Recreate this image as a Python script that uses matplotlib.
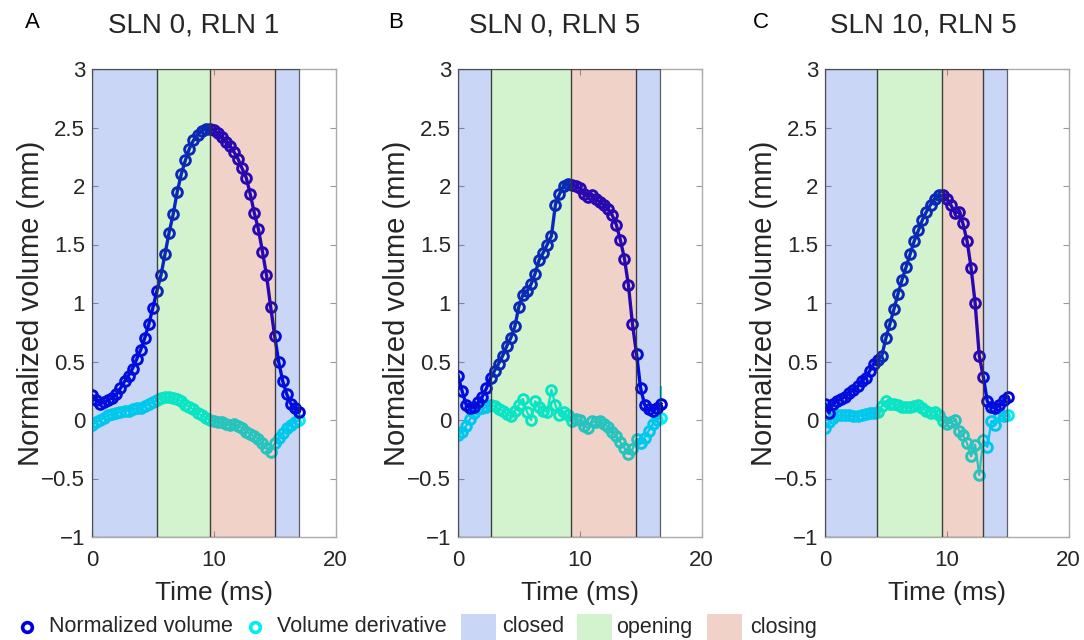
import matplotlib
matplotlib.use("Agg")
import matplotlib.pyplot as plt
from matplotlib.lines import Line2D
from matplotlib.patches import Rectangle

plt.rcParams['font.family'] = ['Liberation Sans', 'DejaVu Sans']

# ---------------- data ----------------
titles = ["SLN 0, RLN 1", "SLN 0, RLN 5", "SLN 10, RLN 5"]
letters = ["A", "B", "C"]

t_a = [0.0, 0.33, 0.67, 1.0, 1.33, 1.67, 2.0, 2.33, 2.67, 3.0, 3.33, 3.67, 4.0, 4.33, 4.67,
       5.0, 5.33, 5.67, 6.0, 6.33, 6.67, 7.0, 7.33, 7.67, 8.0, 8.33, 8.67, 9.0, 9.33, 9.67,
       10.0, 10.33, 10.67, 11.0, 11.33, 11.67, 12.0, 12.33, 12.67, 13.0, 13.33, 13.67, 14.0,
       14.33, 14.67, 15.0, 15.33, 15.67, 16.0, 16.33, 16.67, 17.0]
vol_a = [0.21, 0.17, 0.14, 0.15, 0.17, 0.19, 0.22, 0.27, 0.33, 0.38, 0.44, 0.52, 0.60, 0.70,
         0.82, 0.96, 1.10, 1.24, 1.42, 1.60, 1.76, 1.95, 2.10, 2.22, 2.32, 2.39, 2.44, 2.47,
         2.49, 2.49, 2.48, 2.45, 2.42, 2.38, 2.34, 2.29, 2.23, 2.15, 2.07, 1.93, 1.77, 1.63,
         1.44, 1.24, 0.97, 0.72, 0.50, 0.33, 0.22, 0.14, 0.10, 0.07]
der_a = [-0.04, -0.02, 0.00, 0.02, 0.04, 0.05, 0.06, 0.07, 0.08, 0.08, 0.09, 0.10, 0.10, 0.12,
         0.14, 0.15, 0.17, 0.19, 0.20, 0.20, 0.19, 0.18, 0.16, 0.13, 0.11, 0.09, 0.06, 0.04,
         0.02, 0.00, -0.01, -0.02, -0.02, -0.03, -0.04, -0.03, -0.05, -0.07, -0.10, -0.12,
         -0.14, -0.16, -0.20, -0.24, -0.27, -0.20, -0.15, -0.11, -0.07, -0.04, -0.02, 0.00]
der_line_ends_a = [-0.21, 0.10]

t_b = [0.0, 0.33, 0.67, 1.0, 1.33, 1.67, 2.0, 2.33, 2.67, 3.0, 3.33, 3.67, 4.0, 4.33, 4.67,
       5.0, 5.33, 5.67, 6.0, 6.33, 6.67, 7.0, 7.33, 7.67, 8.0, 8.33, 8.67, 9.0, 9.33, 9.67,
       10.0, 10.33, 10.67, 11.0, 11.33, 11.67, 12.0, 12.33, 12.67, 13.0, 13.33, 13.67, 14.0,
       14.33, 14.67, 15.0, 15.33, 15.67, 16.0, 16.33, 16.67]
vol_b = [0.38, 0.25, 0.13, 0.10, 0.11, 0.15, 0.20, 0.27, 0.36, 0.42, 0.48, 0.55, 0.63, 0.70,
         0.80, 0.97, 1.07, 1.10, 1.16, 1.25, 1.37, 1.43, 1.50, 1.57, 1.84, 1.93, 2.00, 2.02,
         2.01, 2.00, 1.98, 1.93, 1.91, 1.92, 1.89, 1.86, 1.84, 1.80, 1.75, 1.67, 1.54, 1.38,
         1.15, 0.82, 0.56, 0.27, 0.13, 0.09, 0.08, 0.10, 0.14]
der_b = [-0.13, -0.10, -0.05, 0.01, 0.06, 0.09, 0.10, 0.11, 0.13, 0.12, 0.09, 0.08, 0.05, 0.03,
         0.08, 0.13, 0.18, 0.07, 0.00, 0.16, 0.11, 0.08, 0.07, 0.26, 0.13, 0.04, 0.07, 0.04,
         -0.01, 0.01, 0.00, -0.05, -0.07, -0.01, -0.02, -0.01, -0.03, -0.06, -0.10, -0.14,
         -0.19, -0.24, -0.29, -0.25, -0.16, -0.20, -0.15, -0.09, -0.03, 0.00, 0.02]
der_line_ends_b = [-0.24, 0.28]

t_c = [0.0, 0.33, 0.67, 1.0, 1.33, 1.67, 2.0, 2.33, 2.67, 3.0, 3.33, 3.67, 4.0, 4.33, 4.67,
       5.0, 5.33, 5.67, 6.0, 6.33, 6.67, 7.0, 7.33, 7.67, 8.0, 8.33, 8.67, 9.0, 9.33, 9.67,
       10.0, 10.33, 10.67, 11.0, 11.33, 11.67, 12.0, 12.33, 12.67, 13.0, 13.33, 13.67, 14.0,
       14.33, 14.67, 15.0]
vol_c = [0.14, 0.06, 0.14, 0.16, 0.18, 0.20, 0.23, 0.26, 0.29, 0.33, 0.36, 0.42, 0.48, 0.51,
         0.55, 0.70, 0.82, 0.95, 1.08, 1.20, 1.31, 1.42, 1.53, 1.62, 1.71, 1.78, 1.84, 1.89,
         1.92, 1.92, 1.89, 1.84, 1.77, 1.78, 1.68, 1.53, 1.30, 1.00, 0.55, 0.37, 0.16, 0.11,
         0.10, 0.13, 0.17, 0.20]
der_c = [-0.07, -0.02, 0.02, 0.04, 0.04, 0.04, 0.04, 0.03, 0.03, 0.04, 0.05, 0.06, 0.06, 0.07,
         0.12, 0.16, 0.14, 0.14, 0.13, 0.11, 0.11, 0.11, 0.12, 0.13, 0.10, 0.08, 0.06, 0.07,
         0.04, -0.01, -0.03, -0.02, 0.00, -0.09, -0.13, -0.20, -0.31, -0.21, -0.47, -0.17,
         -0.23, -0.01, -0.04, 0.04, 0.03, 0.04]
der_line_ends_c = [-0.24, 0.04]

# phase boundaries (ms): closed | opening | closing | closed
phases_a = [0.0, 5.33, 9.67, 15.0, 17.0]
phases_b = [0.0, 2.68, 9.30, 14.58, 16.56]
phases_c = [0.0, 4.29, 9.65, 12.95, 14.95]
phase_names = ["closed", "opening", "closing", "closed"]

x_ticks = [0, 10, 20]
y_ticks = [-1, -0.5, 0, 0.5, 1, 1.5, 2, 2.5, 3]
y_ticklabels = ["\u22121", "\u22120.5", "0", "0.5", "1", "1.5", "2", "2.5", "3"]

# ---------------- style ----------------
W, H = 1084, 640
VOL_C = (0.0, 0.0, 0.87)
DER_C = (0.0, 0.93, 0.95)
PHASE_RGB = {"closed": (0.0, 0.25, 0.85), "opening": (0.2, 0.78, 0.12), "closing": (0.74, 0.18, 0.0)}
PHASE_ALPHA = 0.21
TXT = "#262626"
SPINE = "#ababab"

fig = plt.figure(figsize=(W / 100, H / 100), dpi=100)

ax_left_px = [92, 458, 825]
ax_w_px = 243.5
ax_top_px, ax_bot_px = 69, 537

panels = [
    (t_a, vol_a, der_a, der_line_ends_a, phases_a),
    (t_b, vol_b, der_b, der_line_ends_b, phases_b),
    (t_c, vol_c, der_c, der_line_ends_c, phases_c),
]

letter_x = [32, 396, 761]
title_x = [194, 555, 923]

for i, (t, v, d, dends, ph) in enumerate(panels):
    ax = fig.add_axes([ax_left_px[i] / W, 1 - ax_bot_px / H, ax_w_px / W, (ax_bot_px - ax_top_px) / H])
    t_line = [t[0]] + list(t) + [t[-1]]
    d_line = [dends[0]] + list(d) + [dends[1]]
    ax.plot(t_line, d_line, color=DER_C, lw=1.6, zorder=2)
    ax.plot(t, d, linestyle="none", marker="o", ms=7, mew=2.1, mfc="none", mec=DER_C, zorder=3)
    ax.plot(t, v, color=VOL_C, lw=2.4, zorder=4)
    ax.plot(t, v, linestyle="none", marker="o", ms=7, mew=2.1, mfc="none", mec=VOL_C, zorder=5)
    for k in range(4):
        rgb = PHASE_RGB[phase_names[k]]
        ax.add_patch(Rectangle((ph[k], -1), ph[k + 1] - ph[k], 4,
                               facecolor=rgb + (PHASE_ALPHA,),
                               edgecolor=(0.2, 0.2, 0.2, 0.75), lw=0.9, zorder=6))
    ax.set_xlim(0, 20)
    ax.set_ylim(-1, 3)
    ax.set_xticks(x_ticks)
    ax.set_xticklabels([str(x) for x in x_ticks])
    ax.set_yticks(y_ticks)
    ax.set_yticklabels(y_ticklabels)
    ax.tick_params(direction="in", length=4, width=0.8, color="#9a9a9a",
                   top=True, right=True, labelsize=16, labelcolor=TXT)
    ax.tick_params(axis="x", pad=9)
    ax.tick_params(axis="y", pad=5)
    for s in ax.spines.values():
        s.set_color(SPINE)
        s.set_linewidth(1.0)
    ax.set_xlabel("Time (ms)", fontsize=19, color=TXT)
    ax.xaxis.set_label_coords(0.5, -(593 - ax_bot_px) / (ax_bot_px - ax_top_px))
    ax.xaxis.label.set_va("center")
    ax.set_ylabel("Normalized volume (mm)", fontsize=21, color=TXT)
    ax.yaxis.set_label_coords(-(ax_left_px[0] - 31) / ax_w_px, 0.5)
    ax.yaxis.label.set_va("center")
    fig.text(title_x[i] / W, 1 - 25 / H, titles[i], fontsize=20, color=TXT, ha="center", va="center")
    fig.text(letter_x[i] / W, 1 - 22 / H, letters[i], fontsize=16, color="black", ha="center", va="center")

# ---------------- legend (figure level) ----------------
ly = 1 - 627 / H
LEG_FS = 15.5
fig.add_artist(Line2D([27 / W], [ly], marker="o", ms=7, mew=2.6, mfc="none", mec=VOL_C, linestyle="none"))
fig.text(49 / W, ly, "Normalized volume", fontsize=LEG_FS, color=TXT, va="center", ha="left")
fig.add_artist(Line2D([255 / W], [ly], marker="o", ms=7, mew=2.6, mfc="none", mec=DER_C, linestyle="none"))
fig.text(277 / W, ly, "Volume derivative", fontsize=LEG_FS, color=TXT, va="center", ha="left")
leg_patches = [("closed", 461, 502), ("opening", 577, 616), ("closing", 707, 750)]
for name, px, tx in leg_patches:
    rgb = PHASE_RGB[name]
    fig.add_artist(Rectangle((px / W, 1 - 640 / H), 35 / W, 26 / H, transform=fig.transFigure,
                             facecolor=rgb + (PHASE_ALPHA,), edgecolor="none"))
    fig.text(tx / W, ly, name, fontsize=LEG_FS, color=TXT, va="center", ha="left")

fig.savefig("out.png", dpi=100)
